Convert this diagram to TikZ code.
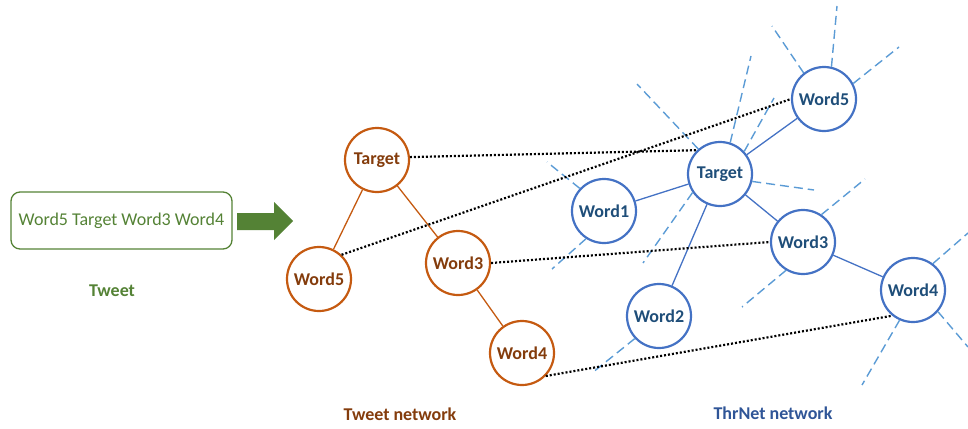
\documentclass[tikz,border=0pt]{standalone}
\usepackage{fontspec}
\setmainfont{Carlito}
\definecolor{tgreen}{HTML}{548235}
\definecolor{torange}{HTML}{C55A11}
\definecolor{tbrown}{HTML}{843C0C}
\definecolor{tblue}{HTML}{4472C4}
\definecolor{tnavy}{HTML}{1F4E79}
\definecolor{tlblue}{HTML}{5B9BD5}
\definecolor{tlabblue}{HTML}{2F5597}
\begin{document}
\begin{tikzpicture}[x=1pt,y=-1pt,
  every node/.style={font=\fontsize{18}{21}\selectfont},
  onode/.style={circle,draw=torange,line width=2.2pt,minimum size=64pt,inner sep=0pt,text=tbrown,font=\fontsize{18}{21}\selectfont\bfseries},
  bnode/.style={circle,draw=tblue,line width=2.2pt,minimum size=64pt,inner sep=0pt,text=tnavy,font=\fontsize{18}{21}\selectfont\bfseries},
  oedge/.style={draw=torange,line width=1.3pt},
  bedge/.style={draw=tblue,line width=1.3pt},
  dedge/.style={draw=tlblue,line width=1.4pt,dash pattern=on 9pt off 5pt},
  link/.style={draw=black,line width=2.2pt,dash pattern=on 2pt off 2pt},
  lab/.style={font=\fontsize{18}{21}\selectfont\bfseries}]
\useasboundingbox (0,0) rectangle (968,428);

% Tweet box and arrow
\node[draw=tgreen,line width=1.3pt,rounded corners=9pt,minimum width=221pt,minimum height=57pt,text=tgreen,inner sep=0pt] (tweet) at (121.5,220.5) {Word5 Target Word3 Word4};
\node[lab,text=tgreen] (tweetlab) at (112,291) {Tweet};
\fill[tgreen] (237,213) -- (274,213) -- (274,202) -- (293,221) -- (274,240) -- (274,230) -- (237,230) -- cycle;

% Tweet network
\node[onode] (oT) at (377,160) {Target};
\node[onode] (oW5) at (319,279) {Word5};
\node[onode] (oW3) at (458,263) {Word3};
\node[onode] (oW4) at (522,353) {Word4};
\draw[oedge] (oT) -- (oW5);
\draw[oedge] (oT) -- (oW3);
\draw[oedge] (oW3) -- (oW4);
\node[lab,text=tbrown] (olab) at (400,414) {Tweet network};

% ThrNet network
\node[bnode] (bW5) at (824,99) {Word5};
\node[bnode] (bT) at (720,174) {Target};
\node[bnode] (bW1) at (604,211) {Word1};
\node[bnode] (bW3) at (803,242) {Word3};
\node[bnode] (bW4) at (913,290) {Word4};
\node[bnode] (bW2) at (659,316) {Word2};
\draw[bedge] (bT) -- (bW5);
\draw[bedge] (bT) -- (bW1);
\draw[bedge] (bT) -- (bW3);
\draw[bedge] (bT) -- (bW2);
\draw[bedge] (bW3) -- (bW4);
\node[lab,text=tlabblue] (blab) at (773,413) {ThrNet network};

% dashed external edges
\coordinate (e1) at (772,26);
\coordinate (e2) at (837,6);
\coordinate (e3) at (899,47);
\coordinate (e4) at (637,84);
\coordinate (e5) at (751,56);
\coordinate (e6) at (774,98);
\coordinate (e7) at (814,190);
\coordinate (e8) at (643,263);
\coordinate (e9) at (547,162);
\coordinate (e10) at (552,269);
\coordinate (e11) at (865,179);
\coordinate (e12) at (742,307);
\coordinate (e13) at (968,233);
\coordinate (e14) at (968,347);
\coordinate (e15) at (862,385);
\coordinate (e16) at (592,373);
\draw[dedge] (bW5.128) -- (e1);
\draw[dedge] (bW5.77) -- (e2);
\draw[dedge] (bW5.28) -- (e3);
\draw[dedge] (bT.131) -- (e4);
\draw[dedge] (bT.72) -- (e5);
\draw[dedge] (bT.43) -- (e6);
\draw[dedge] (bT.-13) -- (e7);
\draw[dedge] (bT.214) -- (e8);
\draw[dedge] (bW1.137) -- (e9);
\draw[dedge] (bW1.237) -- (e10);
\draw[dedge] (bW3.56) -- (e11);
\draw[dedge] (bW3.239) -- (e12);
\draw[dedge] (bW4.53) -- (e13);
\draw[dedge] (bW4.-41) -- (e14);
\draw[dedge] (bW4.246) -- (e15);
\draw[dedge] (bW2.223) -- (e16);

% dotted links
\draw[link] (oT.5) -- (bT.134);
\draw[link] (oW5.47) -- (bW5.180);
\draw[link] (oW3.0) -- (bW3.180);
\draw[link] (oW4.-44) -- (bW4.231);
\end{tikzpicture}
\end{document}
